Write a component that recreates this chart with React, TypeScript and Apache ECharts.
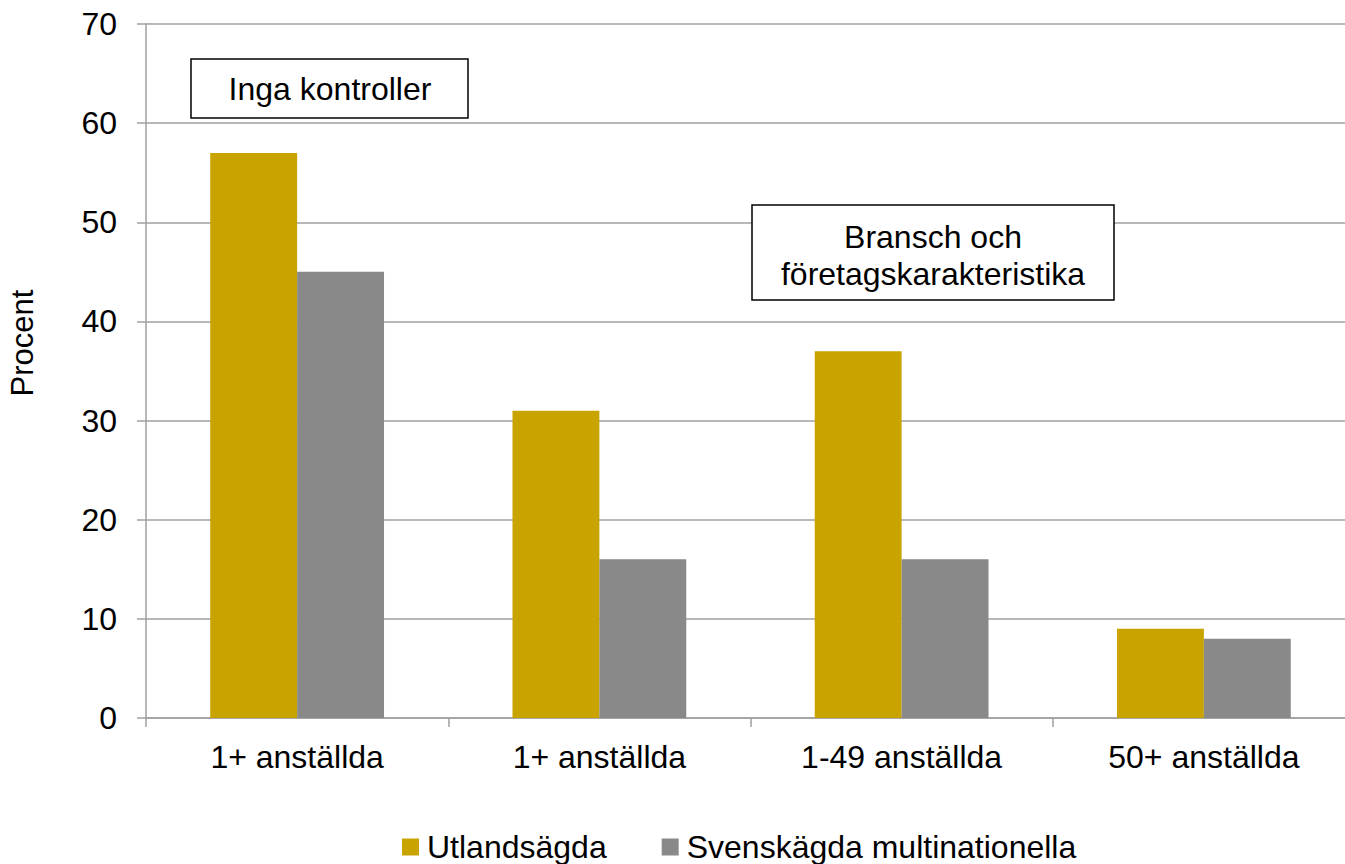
import React, { useEffect, useRef } from "react";
import * as echarts from "echarts";

const categories = ["1+ anställda", "1+ anställda", "1-49 anställda", "50+ anställda"];
const utlandsagda = [57, 31, 37, 9];
const svenskagda = [45, 16, 16, 8];
const seriesNames = ["Utlandsägda", "Svenskägda multinationella"];
const yTicks = { min: 0, max: 70, interval: 10 };
const yAxisName = "Procent";
const note1 = "Inga kontroller";
const note2 = "Bransch och\nföretagskarakteristika";

const FONT = "Liberation Sans, Arial, sans-serif";

export default function App() {
  const ref = useRef<HTMLDivElement>(null);
  useEffect(() => {
    if (!ref.current) return;
    const chart = echarts.init(ref.current, null, { renderer: "svg" });
    chart.setOption({
      animation: false,
      textStyle: { fontFamily: FONT },
      grid: {
        left: 146,
        top: 24,
        width: 1209,
        height: 694,
        containLabel: false,
        outerBoundsMode: "none",
      },
      legend: {
        left: 397,
        top: 826,
        itemWidth: 17,
        itemHeight: 17,
        itemGap: 55,
        icon: "rect",
        textStyle: { fontFamily: FONT, fontSize: 32, color: "#000", padding: [0, 0, 0, 3] },
        data: seriesNames,
      },
      xAxis: {
        type: "category",
        data: categories,
        axisLine: { lineStyle: { color: "#A0A0A0", width: 1.5 } },
        axisTick: { show: true, length: 9, lineStyle: { color: "#A0A0A0", width: 1.5 } },
        axisLabel: { fontFamily: FONT, fontSize: 32, color: "#000", margin: 23 },
      },
      yAxis: {
        type: "value",
        min: yTicks.min,
        max: yTicks.max,
        interval: yTicks.interval,
        axisLine: { show: true, lineStyle: { color: "#A0A0A0", width: 1.5 } },
        axisTick: { show: true, length: 9, lineStyle: { color: "#A0A0A0", width: 1.5 } },
        axisLabel: { fontFamily: FONT, fontSize: 32, color: "#000", margin: 29 },
        splitLine: { lineStyle: { color: "#A0A0A0", width: 1.5 } },
      },
      series: [
        {
          name: seriesNames[0],
          type: "bar",
          data: utlandsagda,
          itemStyle: { color: "#C9A400" },
          barGap: "0%",
          barCategoryGap: "42.5%",
        },
        {
          name: seriesNames[1],
          type: "bar",
          data: svenskagda,
          itemStyle: { color: "#898989" },
          barGap: "0%",
          barCategoryGap: "42.5%",
        },
      ],
      graphic: [
        {
          type: "text",
          x: 22,
          y: 343,
          rotation: Math.PI / 2,
          style: {
            text: yAxisName,
            fontFamily: FONT,
            fontSize: 31,
            fill: "#000",
            align: "center",
            verticalAlign: "middle",
          },
        },
        {
          type: "rect",
          shape: { x: 191, y: 59, width: 277, height: 59 },
          style: { fill: "#fff", stroke: "#000", lineWidth: 1.5 },
          z: 100,
        },
        {
          type: "text",
          x: 330,
          y: 89,
          style: {
            text: note1,
            fontFamily: FONT,
            fontSize: 32,
            fill: "#000",
            align: "center",
            verticalAlign: "middle",
          },
          z: 101,
        },
        {
          type: "rect",
          shape: { x: 752, y: 205, width: 362, height: 95 },
          style: { fill: "#fff", stroke: "#000", lineWidth: 1.5 },
          z: 100,
        },
        {
          type: "text",
          x: 933,
          y: 255,
          style: {
            text: note2,
            fontFamily: FONT,
            fontSize: 32,
            lineHeight: 37,
            fill: "#000",
            align: "center",
            verticalAlign: "middle",
          },
          z: 101,
        },
      ],
    });
    return () => chart.dispose();
  }, []);
  return (
    <div
      ref={ref}
      style={{ position: "absolute", left: 0, top: 0, width: 1345, height: 864, background: "#fff" }}
    />
  );
}
